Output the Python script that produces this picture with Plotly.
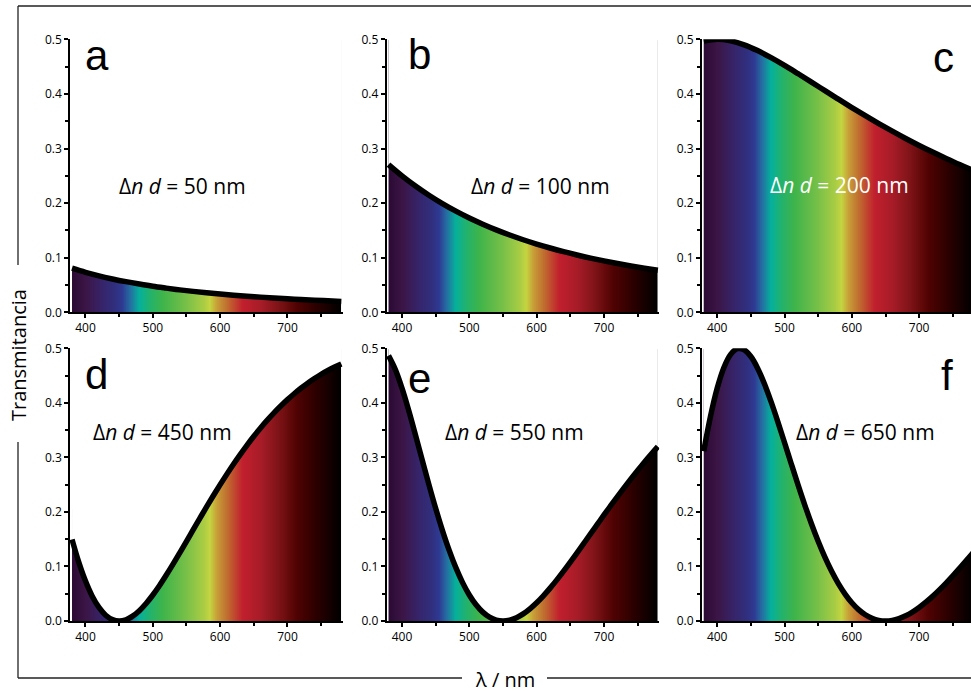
import plotly.graph_objects as go

# ---------------- data ----------------
wavelength_coarse = [380, 400, 420, 440, 460, 480, 500, 520, 540, 560, 580,
                     600, 620, 640, 660, 680, 700, 720, 740, 760, 780]
wavelength_fine = [380, 390, 400, 410, 420, 430, 440, 450, 460, 470, 480, 490, 500, 510, 520,
                   530, 540, 550, 560, 570, 580, 590, 600, 610, 620, 630, 640, 650, 660, 670,
                   680, 690, 700, 710, 720, 730, 740, 750, 760, 770, 780]

T_50 = [0.0807, 0.0732, 0.0667, 0.0611, 0.0561, 0.0517, 0.0477, 0.0443, 0.0411, 0.0383, 0.0358,
        0.0335, 0.0314, 0.0295, 0.0278, 0.0262, 0.0247, 0.0234, 0.0222, 0.0211, 0.0200]
T_100 = [0.2706, 0.2500, 0.2313, 0.2144, 0.1991, 0.1853, 0.1727, 0.1614, 0.1510, 0.1415, 0.1329,
         0.1250, 0.1178, 0.1111, 0.1050, 0.0993, 0.0941, 0.0893, 0.0848, 0.0807, 0.0769]
T_200 = [0.4966, 0.5000, 0.4972, 0.4899, 0.4793, 0.4665, 0.4523, 0.4371, 0.4216, 0.4059, 0.3903,
         0.3750, 0.3601, 0.3457, 0.3318, 0.3184, 0.3056, 0.2934, 0.2818, 0.2706, 0.2601]
T_450 = [0.1496, 0.1079, 0.0732, 0.0455, 0.0248, 0.0106, 0.0026, 0.0000, 0.0023, 0.0089, 0.0190,
         0.0322, 0.0477, 0.0652, 0.0843, 0.1043, 0.1250, 0.1461, 0.1674, 0.1886, 0.2096, 0.2301,
         0.2500, 0.2693, 0.2879, 0.3056, 0.3226, 0.3387, 0.3539, 0.3682, 0.3816, 0.3941, 0.4059,
         0.4167, 0.4268, 0.4361, 0.4445, 0.4523, 0.4593, 0.4656, 0.4714]
T_550 = [0.4865, 0.4613, 0.4268, 0.3859, 0.3413, 0.2954, 0.2500, 0.2066, 0.1663, 0.1299, 0.0978,
         0.0704, 0.0477, 0.0297, 0.0163, 0.0070, 0.0017, 0.0000, 0.0016, 0.0061, 0.0131, 0.0224,
         0.0335, 0.0462, 0.0603, 0.0754, 0.0914, 0.1080, 0.1250, 0.1423, 0.1597, 0.1771, 0.1944,
         0.2114, 0.2282, 0.2446, 0.2606, 0.2761, 0.2912, 0.3056, 0.3196]
T_650 = [0.3114, 0.3750, 0.4268, 0.4649, 0.4889, 0.4993, 0.4974, 0.4849, 0.4636, 0.4354, 0.4022,
         0.3657, 0.3273, 0.2884, 0.2500, 0.2131, 0.1783, 0.1461, 0.1170, 0.0911, 0.0685, 0.0494,
         0.0335, 0.0209, 0.0115, 0.0050, 0.0012, 0.0000, 0.0011, 0.0044, 0.0096, 0.0164, 0.0248,
         0.0344, 0.0452, 0.0570, 0.0695, 0.0827, 0.0965, 0.1106, 0.1250]

panel_letters = ["a", "b", "c", "d", "e", "f"]
panel_dnd = [50, 100, 200, 450, 550, 650]
panel_x = [wavelength_coarse] * 3 + [wavelength_fine] * 3
panel_values = [T_50, T_100, T_200, T_450, T_550, T_650]

x_ticks = [400, 500, 600, 700]
y_ticks = [0.0, 0.1, 0.2, 0.3, 0.4, 0.5]

# visible-spectrum colours used for the filling
spectrum_nm = [380, 400, 425, 445, 455, 467, 480, 496, 516, 550, 575, 585, 595, 610, 634, 660, 686, 714, 745, 780]
spectrum_colors = ["#2b0a34", "#3b1545", "#36246a", "#30307f", "#2e3992", "#2470a2", "#05b09c",
                   "#22b26c", "#40b44a", "#78c048", "#a8cc44", "#c4d540", "#c8a038", "#c07030",
                   "#c11f2d", "#a81c28", "#801418", "#500202", "#2a0000", "#000000"]

# ---------------- figure ----------------
W, H = 971, 693


def fx(px):
    return px / W


def fy(py):
    return 1 - py / H


colorscale = [[(nm - 380) / 400, c] for nm, c in zip(spectrum_nm, spectrum_colors)]
# spectrum band: one row of 1-nm cells spanning exactly 380 to 780 nm
band_edges = list(range(380, 781))
band_centers = [w + 0.5 for w in band_edges[:-1]]
band_y_edges = [-0.1, 0.4985]

# panel geometry in pixels: (left, right, x-range) and (top, bottom)
col_px = [(70.0, 342.7, [377, 782]), (386.5, 659.2, [377, 782]), (701.7, 971.0, [377, 777])]
row_px = [(39.3, 312.3), (348.3, 621.0)]

letter_pos = [(96.5, 55.5), (419, 54.5), (943, 57.5), (96, 374), (419, 378), (947, 375)]
label_pos = [(182.5, 185.5), (540.5, 185.5), (839, 184.7), (162, 432), (514, 431.5), (865, 432)]
label_colors = ["black", "black", "white", "black", "black", "black"]

fig = go.Figure()
layout_axes = {}
annotations = []

tick_font = dict(family="Open Sans", size=12, color="black")

for i in range(6):
    n = i + 1
    r, c = divmod(i, 3)
    xa = "x" if n == 1 else f"x{n}"
    ya = "y" if n == 1 else f"y{n}"
    left, right, xr = col_px[c]
    top, bottom = row_px[r]
    xs = panel_x[i]

    fig.add_trace(go.Heatmap(
        x=band_edges, y=band_y_edges, z=[band_centers],
        colorscale=colorscale, zmin=380, zmax=780, zsmooth=False,
        showscale=False, hoverinfo="skip", xaxis=xa, yaxis=ya))
    fig.add_trace(go.Scatter(
        x=xs, y=[0.6] * len(xs), mode="lines",
        line=dict(width=0, color="white"), hoverinfo="skip",
        showlegend=False, xaxis=xa, yaxis=ya))
    fig.add_trace(go.Scatter(
        x=xs, y=panel_values[i], mode="lines",
        line=dict(color="black", width=5.5, shape="spline", smoothing=1.0),
        fill="tonexty", fillcolor="white", showlegend=False,
        xaxis=xa, yaxis=ya))

    xkey = "xaxis" if n == 1 else f"xaxis{n}"
    ykey = "yaxis" if n == 1 else f"yaxis{n}"
    layout_axes[xkey] = dict(
        domain=[fx(left), fx(right)], anchor=ya, range=xr, automargin=False,
        tickmode="array", tickvals=x_ticks, ticks="outside", ticklen=4, tickwidth=1.5,
        tickcolor="black", showline=True, linecolor="black", linewidth=1.5,
        showgrid=False, zeroline=False, tickfont=tick_font,
        minor=dict(dtick=50, tick0=350, ticks="outside", ticklen=3, tickwidth=1.5, tickcolor="black"))
    layout_axes[ykey] = dict(
        domain=[fy(bottom), fy(top)], anchor=xa, range=[0, 0.5], automargin=False,
        tickmode="array", tickvals=y_ticks, tickformat=".1f",
        ticks="outside", ticklen=4, tickwidth=1.5, tickcolor="black",
        showline=True, linecolor="black", linewidth=1.5,
        showgrid=False, zeroline=False, tickfont=tick_font,
        minor=dict(dtick=0.05, tick0=0, ticks="outside", ticklen=3, tickwidth=1.5, tickcolor="black"))

    lx, ly = letter_pos[i]
    annotations.append(dict(
        x=fx(lx), y=fy(ly), xref="paper", yref="paper", text=panel_letters[i],
        showarrow=False, xanchor="center", yanchor="middle",
        font=dict(family="Liberation Sans", size=42, color="black")))
    tx, ty = label_pos[i]
    annotations.append(dict(
        x=fx(tx), y=fy(ty), xref="paper", yref="paper",
        text=f"Δ<i>n d</i> = {panel_dnd[i]} nm",
        showarrow=False, xanchor="center", yanchor="middle",
        font=dict(family="Open Sans", size=21, color=label_colors[i])))

# outer labels
annotations.append(dict(
    x=fx(18), y=fy(355), xref="paper", yref="paper", text="Transmitancia",
    textangle=-90, showarrow=False, xanchor="center", yanchor="middle",
    font=dict(family="Open Sans", size=20, color="black")))
annotations.append(dict(
    x=fx(504.5), y=fy(679), xref="paper", yref="paper", text="λ / nm",
    showarrow=False, xanchor="center", yanchor="middle",
    font=dict(family="Open Sans", size=20, color="black")))

frame = dict(color="#222222", width=1.3)
shapes = [
    dict(type="line", xref="paper", yref="paper", x0=fx(18), x1=1, y0=fy(6), y1=fy(6), line=frame),
    dict(type="line", xref="paper", yref="paper", x0=fx(18), x1=fx(18), y0=fy(6), y1=fy(265), line=frame),
    dict(type="line", xref="paper", yref="paper", x0=fx(18), x1=fx(18), y0=fy(442), y1=fy(678), line=frame),
    dict(type="line", xref="paper", yref="paper", x0=fx(18), x1=fx(462), y0=fy(678), y1=fy(678), line=frame),
    dict(type="line", xref="paper", yref="paper", x0=fx(547), x1=1, y0=fy(678), y1=fy(678), line=frame),
]

fig.update_layout(
    width=W, height=H, margin=dict(l=0, r=0, t=0, b=0, pad=0, autoexpand=False),
    paper_bgcolor="white", plot_bgcolor="white", showlegend=False,
    annotations=annotations, shapes=shapes, **layout_axes)

fig.write_html("out.html", config={"displayModeBar": False},
               post_script="document.body.style.margin='0px';document.body.style.overflow='hidden';")
